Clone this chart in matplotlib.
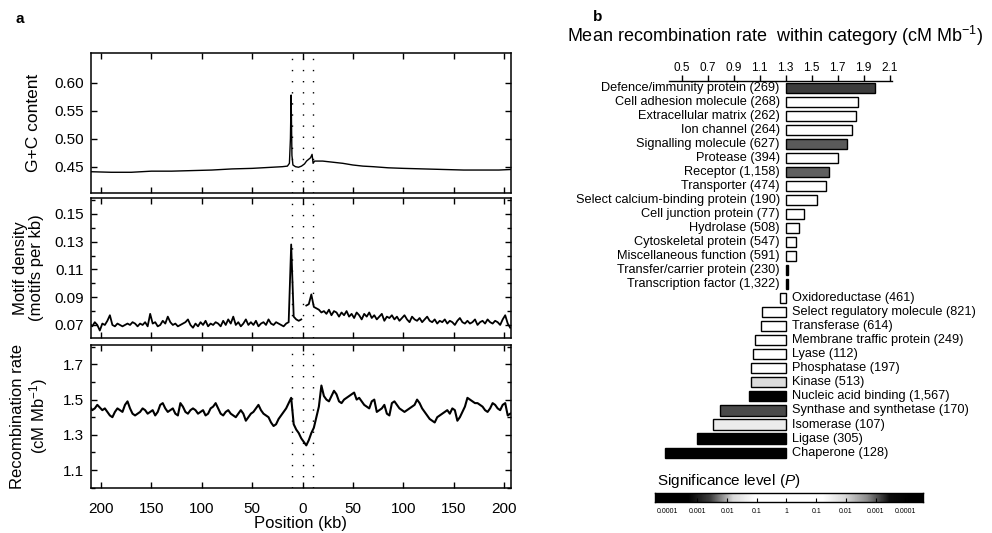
import matplotlib.pyplot as plt
import numpy as np
from matplotlib.ticker import FuncFormatter, MultipleLocator, FormatStrFormatter

plt.rcParams['font.family'] = ['Liberation Sans', 'DejaVu Sans']
plt.rcParams['mathtext.fontset'] = 'custom'
plt.rcParams['mathtext.rm'] = 'Liberation Sans'
plt.rcParams['mathtext.it'] = 'Liberation Sans:italic'

# ---------------- panel a : profiles around hotspots ----------------
pos = np.arange(-211.25, 207, 2.5)   # window centres (kb)

gc_pos = [-210, -190, -170, -150, -130, -110, -90, -70, -50, -30, -20, -15, -13, -12,
          -11.3, -10.5, -9.5, -7, -4, -1, 2, 4, 6, 8, 9.5, 10.5, 12, 15, 20, 30, 40,
          50, 60, 70, 85, 100, 120, 140, 160, 180, 195, 207]
gc_val = [0.441, 0.440, 0.440, 0.442, 0.442, 0.443, 0.444, 0.446, 0.447, 0.449, 0.450,
          0.451, 0.456, 0.500, 0.578, 0.470, 0.453, 0.450, 0.449, 0.451, 0.455, 0.460,
          0.463, 0.466, 0.472, 0.456, 0.460, 0.460, 0.460, 0.458, 0.456, 0.453, 0.451,
          0.450, 0.448, 0.447, 0.446, 0.445, 0.444, 0.444, 0.444, 0.445]

motif_val = [
    0.071, 0.069, 0.072, 0.070, 0.066, 0.071, 0.070, 0.073, 0.077, 0.070,
    0.069, 0.071, 0.070, 0.069, 0.070, 0.071, 0.070, 0.072, 0.071, 0.069,
    0.071, 0.070, 0.072, 0.069, 0.078, 0.071, 0.072, 0.069, 0.070, 0.073,
    0.071, 0.076, 0.072, 0.070, 0.071, 0.069, 0.070, 0.071, 0.072, 0.074,
    0.070, 0.068, 0.071, 0.069, 0.072, 0.070, 0.073, 0.069, 0.071, 0.070,
    0.072, 0.071, 0.069, 0.073, 0.070, 0.074, 0.071, 0.076, 0.070, 0.072,
    0.069, 0.071, 0.074, 0.070, 0.072, 0.070, 0.073, 0.069, 0.071, 0.072,
    0.070, 0.074, 0.071, 0.070, 0.072, 0.071, 0.070, 0.069, 0.071, 0.072,
    0.128, 0.076, 0.074, 0.073, 0.074, np.nan, 0.084, 0.085, 0.092, 0.083,
    0.082, 0.081, 0.079, 0.080, 0.078, 0.081, 0.077, 0.080, 0.079, 0.076,
    0.079, 0.077, 0.080, 0.076, 0.078, 0.075, 0.079, 0.077, 0.074, 0.078,
    0.076, 0.079, 0.075, 0.077, 0.074, 0.076, 0.078, 0.073, 0.076, 0.075,
    0.077, 0.074, 0.076, 0.073, 0.075, 0.077, 0.074, 0.072, 0.076, 0.074,
    0.073, 0.075, 0.072, 0.074, 0.076, 0.073, 0.072, 0.074, 0.071, 0.073,
    0.072, 0.074, 0.071, 0.073, 0.072, 0.070, 0.073, 0.075, 0.072, 0.071,
    0.073, 0.071, 0.072, 0.074, 0.070, 0.072, 0.073, 0.071, 0.074, 0.072,
    0.071, 0.073, 0.072, 0.070, 0.074, 0.077, 0.071, 0.068]

recomb_val = [
    1.46, 1.44, 1.45, 1.47, 1.455, 1.44, 1.45, 1.43, 1.41, 1.40,
    1.43, 1.45, 1.44, 1.43, 1.47, 1.49, 1.45, 1.42, 1.41, 1.42,
    1.43, 1.45, 1.44, 1.42, 1.43, 1.44, 1.41, 1.43, 1.47, 1.48,
    1.45, 1.43, 1.44, 1.45, 1.42, 1.41, 1.48, 1.46, 1.43, 1.42,
    1.44, 1.45, 1.44, 1.42, 1.43, 1.44, 1.41, 1.42, 1.45, 1.46,
    1.48, 1.45, 1.42, 1.41, 1.43, 1.44, 1.42, 1.41, 1.40, 1.42,
    1.44, 1.42, 1.38, 1.40, 1.42, 1.43, 1.45, 1.47, 1.44, 1.42,
    1.41, 1.40, 1.37, 1.35, 1.36, 1.39, 1.41, 1.43, 1.45, 1.48,
    1.51, 1.36, 1.33, 1.31, 1.28, 1.26, 1.24, 1.27, 1.31, 1.34,
    1.40, 1.46, 1.58, 1.52, 1.50, 1.49, 1.52, 1.55, 1.53, 1.49,
    1.48, 1.50, 1.51, 1.52, 1.53, 1.54, 1.50, 1.51, 1.49, 1.47,
    1.46, 1.45, 1.49, 1.50, 1.43, 1.44, 1.45, 1.47, 1.42, 1.41,
    1.48, 1.49, 1.47, 1.45, 1.44, 1.43, 1.44, 1.45, 1.46, 1.47,
    1.50, 1.48, 1.45, 1.43, 1.41, 1.39, 1.38, 1.37, 1.40, 1.41,
    1.42, 1.43, 1.44, 1.42, 1.45, 1.44, 1.38, 1.40, 1.43, 1.46,
    1.51, 1.50, 1.49, 1.48, 1.48, 1.47, 1.46, 1.44, 1.43, 1.45,
    1.48, 1.47, 1.45, 1.44, 1.47, 1.48, 1.41, 1.42]

marks_kb = [-10, 0, 10]

# ---------------- panel b : recombination by gene category ----------------
categories = ['Defence/immunity protein', 'Cell adhesion molecule', 'Extracellular matrix',
              'Ion channel', 'Signalling molecule', 'Protease', 'Receptor', 'Transporter',
              'Select calcium-binding protein', 'Cell junction protein', 'Hydrolase',
              'Cytoskeletal protein', 'Miscellaneous function', 'Transfer/carrier protein',
              'Transcription factor', 'Oxidoreductase', 'Select regulatory molecule',
              'Transferase', 'Membrane traffic protein', 'Lyase', 'Phosphatase', 'Kinase',
              'Nucleic acid binding', 'Synthase and synthetase', 'Isomerase', 'Ligase',
              'Chaperone']
counts = ['269', '268', '262', '264', '627', '394', '1,158', '474', '190', '77', '508',
          '547', '591', '230', '1,322', '461', '821', '614', '249', '112', '197', '513',
          '1,567', '170', '107', '305', '128']
mean_rate = [1.99, 1.855, 1.84, 1.81, 1.775, 1.705, 1.636, 1.61, 1.543, 1.44, 1.405,
             1.38, 1.377, 1.32, 1.315, 1.256, 1.12, 1.107, 1.063, 1.045, 1.033, 1.033,
             1.017, 0.794, 0.742, 0.614, 0.37]
# bar shade stands for the significance level of each category
bar_fill = ['#3c3c3c', 'white', 'white', 'white', '#5a5a5a', 'white', '#606060', 'white',
            'white', 'white', 'white', 'white', 'white', 'black', 'black', 'white', 'white',
            'white', 'white', 'white', 'white', '#dcdcdc', 'black', '#4a4a4a', '#ececec',
            'black', 'black']
genome_mean = 1.3
rate_ticks = [0.5, 0.7, 0.9, 1.1, 1.3, 1.5, 1.7, 1.9, 2.1]

sig_labels = ['0.0001', '0.001', '0.01', '0.1', '1', '0.1', '0.01', '0.001', '0.0001']
sig_gray = [0.0, 0.0, 0.25, 0.85, 1.0, 1.0, 1.0, 1.0, 0.85, 0.55, 0.05, 0.0]

# ---------------- figure ----------------
fig = plt.figure(figsize=(9.92, 5.33), dpi=100)
FW, FH = 992.0, 533.0


def box(x0, y0, x1, y1):
    return [x0 / FW, 1 - y1 / FH, (x1 - x0) / FW, (y1 - y0) / FH]


ax1 = fig.add_axes(box(91, 53, 511, 193))
ax2 = fig.add_axes(box(91, 198, 511, 338))
ax3 = fig.add_axes(box(91, 345, 511, 488))

ax1.plot(gc_pos, gc_val, color='black', lw=1.0)
ax2.plot(pos, motif_val, color='black', lw=1.3)
ax3.plot(pos, recomb_val, color='black', lw=1.5)

for ax in (ax1, ax2, ax3):
    ax.set_xlim(-210, 207)
    ax.set_xticks(range(-200, 201, 50))
    for m in marks_kb:
        ax.axvline(m, color='black', lw=1.0, ls=(0, (1, 7)))
    ax.tick_params(direction='in', top=True, right=True, length=4, width=1,
                   labelsize=11, pad=5)
    ax.tick_params(which='minor', direction='in', right=True, left=True, length=3, width=1)
    for s in ax.spines.values():
        s.set_linewidth(1.1)

ax1.set_ylim(0.403, 0.653)
ax1.set_yticks([0.45, 0.50, 0.55, 0.60])
ax1.yaxis.set_major_formatter(FormatStrFormatter('%.2f'))
ax1.set_xticklabels([])

ax2.set_ylim(0.0606, 0.1615)
ax2.set_yticks([0.07, 0.09, 0.11, 0.13, 0.15])
ax2.yaxis.set_minor_locator(MultipleLocator(0.01))
ax2.yaxis.set_major_formatter(FormatStrFormatter('%.2f'))
ax2.set_xticklabels([])

ax3.set_ylim(0.998, 1.81)
ax3.set_yticks([1.1, 1.3, 1.5, 1.7])
ax3.yaxis.set_minor_locator(MultipleLocator(0.1))
ax3.yaxis.set_major_formatter(FormatStrFormatter('%.1f'))
ax3.xaxis.set_major_formatter(FuncFormatter(lambda v, p: '%d' % abs(v)))
ax3.tick_params(axis='x', pad=10)
ax3.set_xlabel('Position (kb)', fontsize=12, labelpad=0)

ax1.set_ylabel('G+C content', fontsize=12.5, va='center')
ax2.set_ylabel('Motif density\n(motifs per kb)', fontsize=12, va='center', linespacing=1.1)
ax3.set_ylabel('Recombination rate\n(cM Mb$^{-1}$)', fontsize=12, va='center',
               linespacing=1.1)
ax1.yaxis.set_label_coords(-0.138, 0.5)
ax2.yaxis.set_label_coords(-0.148, 0.5)
ax3.yaxis.set_label_coords(-0.145, 0.5)

fig.text(15 / FW, 1 - 19 / FH, 'a', fontsize=11, fontweight='bold', va='center')
fig.text(593 / FW, 1 - 17 / FH, 'b', fontsize=11, fontweight='bold', va='center')

# panel b bars
axb = fig.add_axes(box(660, 80.6, 900, 459.6))
rows = np.arange(len(categories))
widths = [v - genome_mean for v in mean_rate]
axb.barh(rows, widths, left=genome_mean, height=0.72, color=bar_fill,
         edgecolor='black', linewidth=1.0)
axb.set_xlim(0.3316, 2.1806)
axb.set_ylim(len(categories) - 0.5, -0.5)
for i, (name, n, v) in enumerate(zip(categories, counts, mean_rate)):
    label = '%s (%s)' % (name, n)
    if v >= genome_mean:
        axb.text(genome_mean - 0.045, i, label, ha='right', va='center', fontsize=9.2)
    else:
        axb.text(genome_mean + 0.045, i, label, ha='left', va='center', fontsize=9.2)

for side in ('left', 'right', 'bottom'):
    axb.spines[side].set_visible(False)
axb.spines['top'].set_bounds(0.40, 2.12)
axb.spines['top'].set_linewidth(1.0)
axb.set_yticks([])
axb.xaxis.tick_top()
axb.set_xticks(rate_ticks)
axb.xaxis.set_major_formatter(FormatStrFormatter('%.1f'))
axb.tick_params(axis='x', direction='out', length=4, width=1, labelsize=8.5, pad=1)

fig.text(567 / FW, 1 - 36 / FH,
         'Mean recombination rate  within category (cM Mb$^{-1}$)',
         fontsize=13, va='center', ha='left')

# significance scale
fig.text(657 / FW, 1 - 481 / FH, 'Significance level ($P$)', fontsize=11,
         va='center', ha='left')
axs = fig.add_axes(box(655, 493, 923, 502))
axs.imshow([sig_gray], cmap='gray', vmin=0, vmax=1, aspect='auto',
           interpolation='bilinear', extent=(-0.43, 8.6, 0, 1))
axs.set_xlim(-0.43, 8.6)
axs.set_xticks(range(len(sig_labels)))
axs.set_xticklabels(sig_labels)
axs.set_yticks([])
axs.tick_params(axis='x', direction='in', length=3, width=0.8, labelsize=5, pad=4,
                colors='black')
for s in axs.spines.values():
    s.set_linewidth(1.0)

fig.savefig('out.png', dpi=100)
